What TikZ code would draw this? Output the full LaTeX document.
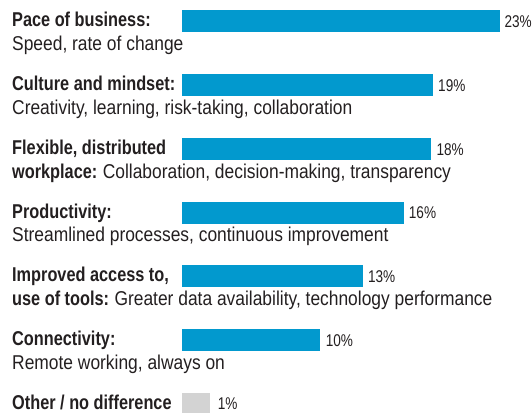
\documentclass[tikz,border=0pt]{standalone}
\usepackage{fontspec}
\setmainfont{Liberation Sans}[FakeStretch=0.87,BoldFeatures={FakeStretch=0.815}]
\newfontfamily\pctfont{Liberation Sans}[FakeStretch=0.8]
\definecolor{barblue}{RGB}{2,153,206}
\definecolor{bargray}{RGB}{211,211,211}
\definecolor{txt}{RGB}{35,31,32}
\begin{document}
\begin{tikzpicture}[x=1pt,y=-1pt,
  lbl/.style={anchor=base west,inner sep=0pt,text=txt,font=\fontsize{20}{20}\selectfont},
  bar/.style={anchor=north west,inner sep=0pt,minimum height=22pt,fill=barblue},
  pct/.style={anchor=west,inner sep=0pt,text=txt,font=\pctfont\fontsize{17}{17}\selectfont}]
\useasboundingbox (0,0) rectangle (532,412);
\clip (0,0) rectangle (532,412);
% row 1
\node[lbl] (l1a) at (12,26.7) {\textbf{Pace of business:}};
\node[lbl] (l1b) at (12,50.2) {Speed, rate of change};
\node[bar,minimum width=318pt] (b1) at (182,10) {};
\node[pct] (p1) at ([xshift=4pt]b1.east) {23\%};
% row 2
\node[lbl] (l2a) at (12,90.5) {\textbf{Culture and mindset:}};
\node[lbl] (l2b) at (12,114) {Creativity, learning, risk-taking, collaboration};
\node[bar,minimum width=250.6pt] (b2) at (182,74) {};
\node[pct] (p2) at ([xshift=5pt]b2.east) {19\%};
% row 3
\node[lbl] (l3a) at (12,154.5) {\textbf{Flexible, distributed}};
\node[lbl] (l3b) at (12,178) {\textbf{workplace:}\hspace{-1pt} Collaboration, decision-making, transparency};
\node[bar,minimum width=249pt] (b3) at (182,138) {};
\node[pct] (p3) at ([xshift=5pt]b3.east) {18\%};
% row 4
\node[lbl] (l4a) at (12,218.2) {\textbf{Productivity:}};
\node[lbl] (l4b) at (12,241.7) {Streamlined processes, continuous improvement};
\node[bar,minimum width=221.3pt] (b4) at (182,201.7) {};
\node[pct] (p4) at ([xshift=5pt]b4.east) {16\%};
% row 5
\node[lbl] (l5a) at (12,281.7) {\textbf{Improved access to,}};
\node[lbl] (l5b) at (12,305.2) {\textbf{use of tools:}\hspace{-1pt} Greater data availability, technology performance};
\node[bar,minimum width=180.5pt] (b5) at (182,265.2) {};
\node[pct] (p5) at ([xshift=5pt]b5.east) {13\%};
% row 6
\node[lbl] (l6a) at (12,345.5) {\textbf{Connectivity:}};
\node[lbl] (l6b) at (12,369) {Remote working, always on};
\node[bar,minimum width=138.2pt] (b6) at (182,329) {};
\node[pct] (p6) at ([xshift=5pt]b6.east) {10\%};
% row 7
\node[lbl] (l7a) at (12,409) {\textbf{Other / no difference}};
\node[bar,fill=bargray,minimum width=27.6pt] (b7) at (182,393) {};
\node[pct,anchor=base west] (p7) at (217.6,409.5) {1\%};
\end{tikzpicture}
\end{document}
